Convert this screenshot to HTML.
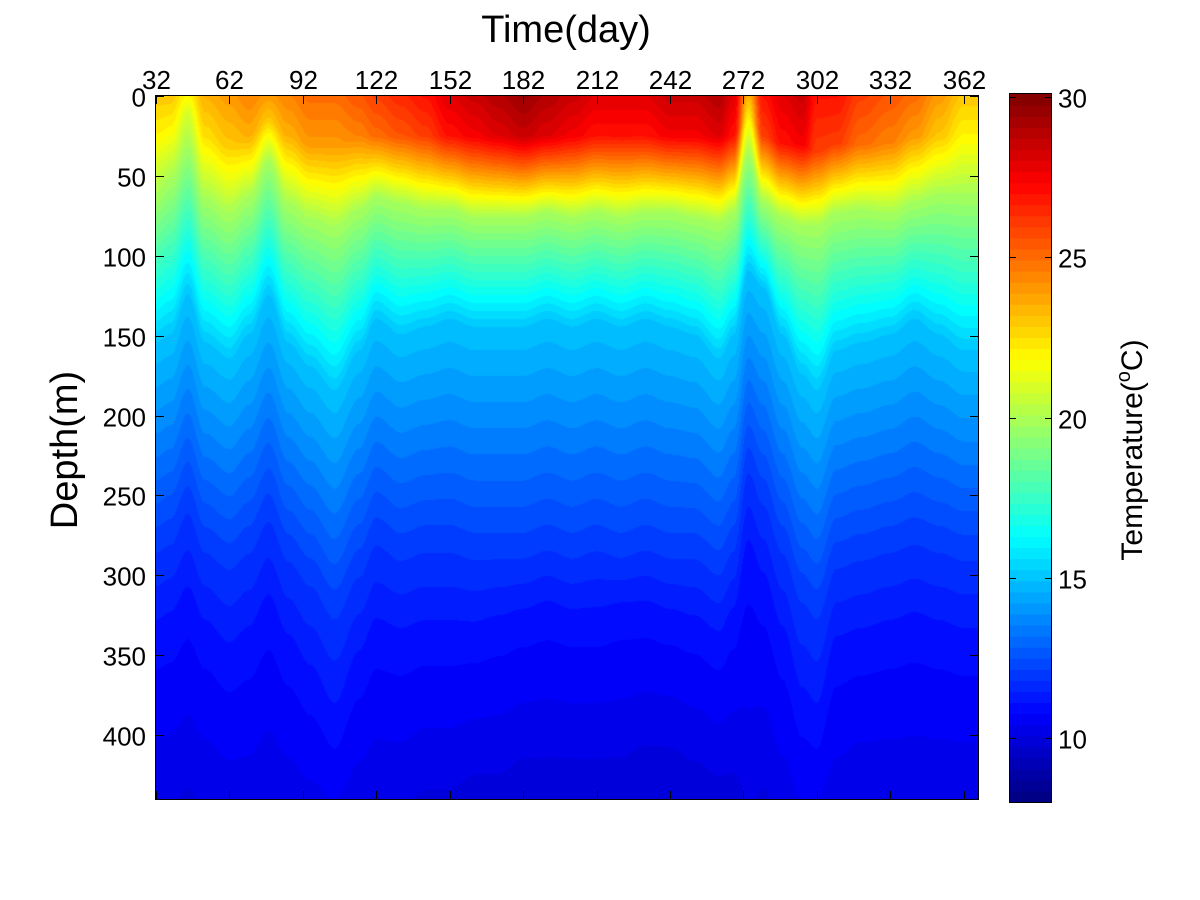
<!DOCTYPE html>
<html><head><meta charset="utf-8"><style>
body{margin:0;background:#fff;width:1200px;height:900px;overflow:hidden;font-family:"Liberation Sans",sans-serif;position:relative}
#cv{position:absolute;left:156px;top:96px}
svg{position:absolute;left:0;top:0}
</style></head><body>
<canvas id="cv" width="822" height="703"></canvas>
<svg id="ov" width="1200" height="900">
<text x="566" y="42" font-size="38" text-anchor="middle">Time(day)</text>
<text transform="translate(77,450) rotate(-90)" font-size="38" text-anchor="middle">Depth(m)</text>
<text transform="translate(1142,450) rotate(-90)" font-size="30" text-anchor="middle">Temperature(<tspan font-size="20" dy="-12">o</tspan><tspan dy="12">C)</tspan></text>
<g id="axes"></g>
</svg>
<script>
const days=[32,38,45,52,62,70,78,86,95,105,115,122,132,142,152,162,172,182,192,202,212,222,232,242,252,262,268,274,280,288,296,302,310,320,332,342,352,362,368];
const sst=[23,23,22,23.5,24,24.5,24,24.5,25,25,25.5,26,26.5,27,28,28.5,29,29.5,29,28.5,28,28,28,28.5,28.5,29,28,23.5,27,28,28.5,27,27,26,25.5,25,24,23,23];
const mld=[25,20,10,25,30,25,15,25,30,30,25,25,25,25,25,25,25,25,25,25,25,25,25,25,25,25,25,10,25,30,30,35,30,30,30,25,25,25,25];
const d20=[60,50,30,62,72,62,40,66,75,80,70,62,66,70,70,75,75,75,72,75,72,75,72,72,75,78,72,35,65,75,80,80,72,70,72,65,60,60,60];
const d15=[155,150,125,155,165,150,125,155,170,185,160,140,150,145,140,145,145,145,140,145,140,145,140,145,150,165,150,110,120,150,175,185,160,155,150,140,150,160,160];
const d12=[280,275,255,280,290,280,260,285,300,320,295,275,285,280,280,285,285,285,280,285,280,285,280,285,285,295,280,230,250,280,310,320,290,285,280,275,280,285,285];
const d11=[340,335,320,340,355,345,325,350,370,395,360,340,345,340,340,340,335,330,325,330,330,325,325,330,335,345,330,290,310,345,385,395,350,345,340,335,340,345,345];
const tbot=[10.2,10.2,10.1,10.2,10.3,10.3,10.2,10.3,10.4,10.5,10.3,10.2,10.2,10.1,10.1,10.0,10.0,9.9,9.9,9.9,9.9,9.9,9.8,9.8,9.9,10.0,10.0,10.2,10.1,10.3,10.5,10.5,10.3,10.2,10.2,10.2,10.2,10.2,10.2];
const xTicks=[32,62,92,122,152,182,212,242,272,302,332,362];
const yTicks=[0,50,100,150,200,250,300,350,400];
const cTicks=[10,15,20,25,30];
const dayMin=32,dayMax=367.8,zMax=440,tMin=8,tMax=30.1;
const PL=156,PT=96,PW=822,PH=703;
const xS=d=>PL+(d-dayMin)/(dayMax-dayMin)*PW;
const yS=z=>PT+z/zMax*PH;
function jet(t){t=Math.max(0,Math.min(1,t));
 const r=Math.max(0,Math.min(1,1.5-Math.abs(4*t-3))),g=Math.max(0,Math.min(1,1.5-Math.abs(4*t-2))),b=Math.max(0,Math.min(1,1.5-Math.abs(4*t-1)));
 return [r*255|0,g*255|0,b*255|0];}
function interpDay(arr,d){let i=0;while(i<days.length-2&&days[i+1]<d)i++;
 const f=Math.max(0,Math.min(1,(d-days[i])/(days[i+1]-days[i])));
 const s=f*f*(3-2*f);return arr[i]+(arr[i+1]-arr[i])*s;}
const cv=document.getElementById('cv'),ctx=cv.getContext('2d'),img=ctx.createImageData(PW,PH);
for(let px=0;px<PW;px++){
 const d=dayMin+(px+0.5)/PW*(dayMax-dayMin);
 const s=interpDay(sst,d),m=interpDay(mld,d);
 const kz=[0,m,interpDay(d20,d),interpDay(d15,d),interpDay(d12,d),interpDay(d11,d),zMax];
 const kt=[s,s-1,20,15,12,11,interpDay(tbot,d)];
 for(let py=0;py<PH;py++){
  const z=(py+0.5)/PH*zMax;let k=0;while(k<kz.length-2&&kz[k+1]<z)k++;
  const f=Math.max(0,Math.min(1,(z-kz[k])/(kz[k+1]-kz[k]||1)));
  let T=kt[k]+(kt[k+1]-kt[k])*f;T=Math.floor(T/0.35)*0.35+0.17;
  const c=jet((T-tMin)/(tMax-tMin));const o=(py*PW+px)*4;
  img.data[o]=c[0];img.data[o+1]=c[1];img.data[o+2]=c[2];img.data[o+3]=255;}
}
ctx.putImageData(img,0,0);
const NS='http://www.w3.org/2000/svg',g=document.getElementById('axes');
function el(t,a){const e=document.createElementNS(NS,t);for(const k in a)e.setAttribute(k,a[k]);g.appendChild(e);return e;}
let fr=el('rect',{x:PL-0.5,y:PT-0.5,width:PW+1,height:PH+1,fill:'none',stroke:'#000','stroke-width':1});


xTicks.forEach(v=>{const x=Math.round(xS(v))+0.5;
 let t1=el('line',{x1:x,x2:x,y1:PT,y2:PT+8,stroke:'#000'});
 
 
 let t2=el('line',{x1:x,x2:x,y1:PT+PH,y2:PT+PH-8,stroke:'#000'});
 
 
 let tx=el('text',{x:x,y:89,'font-size':26,'text-anchor':'middle'});tx.textContent=v;
 
 });
yTicks.forEach(v=>{const y=Math.round(yS(v))+0.5;
 let t1=el('line',{x1:PL,x2:PL+8,y1:y,y2:y,stroke:'#000'});
 
 
 let t2=el('line',{x1:PL+PW,x2:PL+PW-8,y1:y,y2:y,stroke:'#000'});
 
 
 let tx=el('text',{x:146,y:y+10,'font-size':26,'text-anchor':'end'});tx.textContent=v;
 
 });
const CL=1010,CW=41,CT=94,CB=802,cy=T=>CB-(T-tMin)/(tMax-tMin)*(CB-CT);
for(let i=0;i<64;i++){const t0=tMin+i*(tMax-tMin)/64,t1=tMin+(i+1)*(tMax-tMin)/64;const c=jet((i+0.5)/64);
 let r=el('rect',{x:CL,y:cy(t1),width:CW,height:cy(t0)-cy(t1)+0.6,fill:`rgb(${c[0]},${c[1]},${c[2]})`});
 
 }
let cf=el('rect',{x:CL-0.5,y:CT-0.5,width:CW+1,height:CB-CT+1,fill:'none',stroke:'#000'});


cTicks.forEach(v=>{const y=Math.round(cy(v))+0.5;
 let t1=el('line',{x1:CL,x2:CL+6,y1:y,y2:y,stroke:'#000'});
 
 
 let t2=el('line',{x1:CL+CW,x2:CL+CW-6,y1:y,y2:y,stroke:'#000'});
 
 
 let tx=el('text',{x:1058,y:y+10,'font-size':26});tx.textContent=v;
 
 });
</script>
</body></html>
